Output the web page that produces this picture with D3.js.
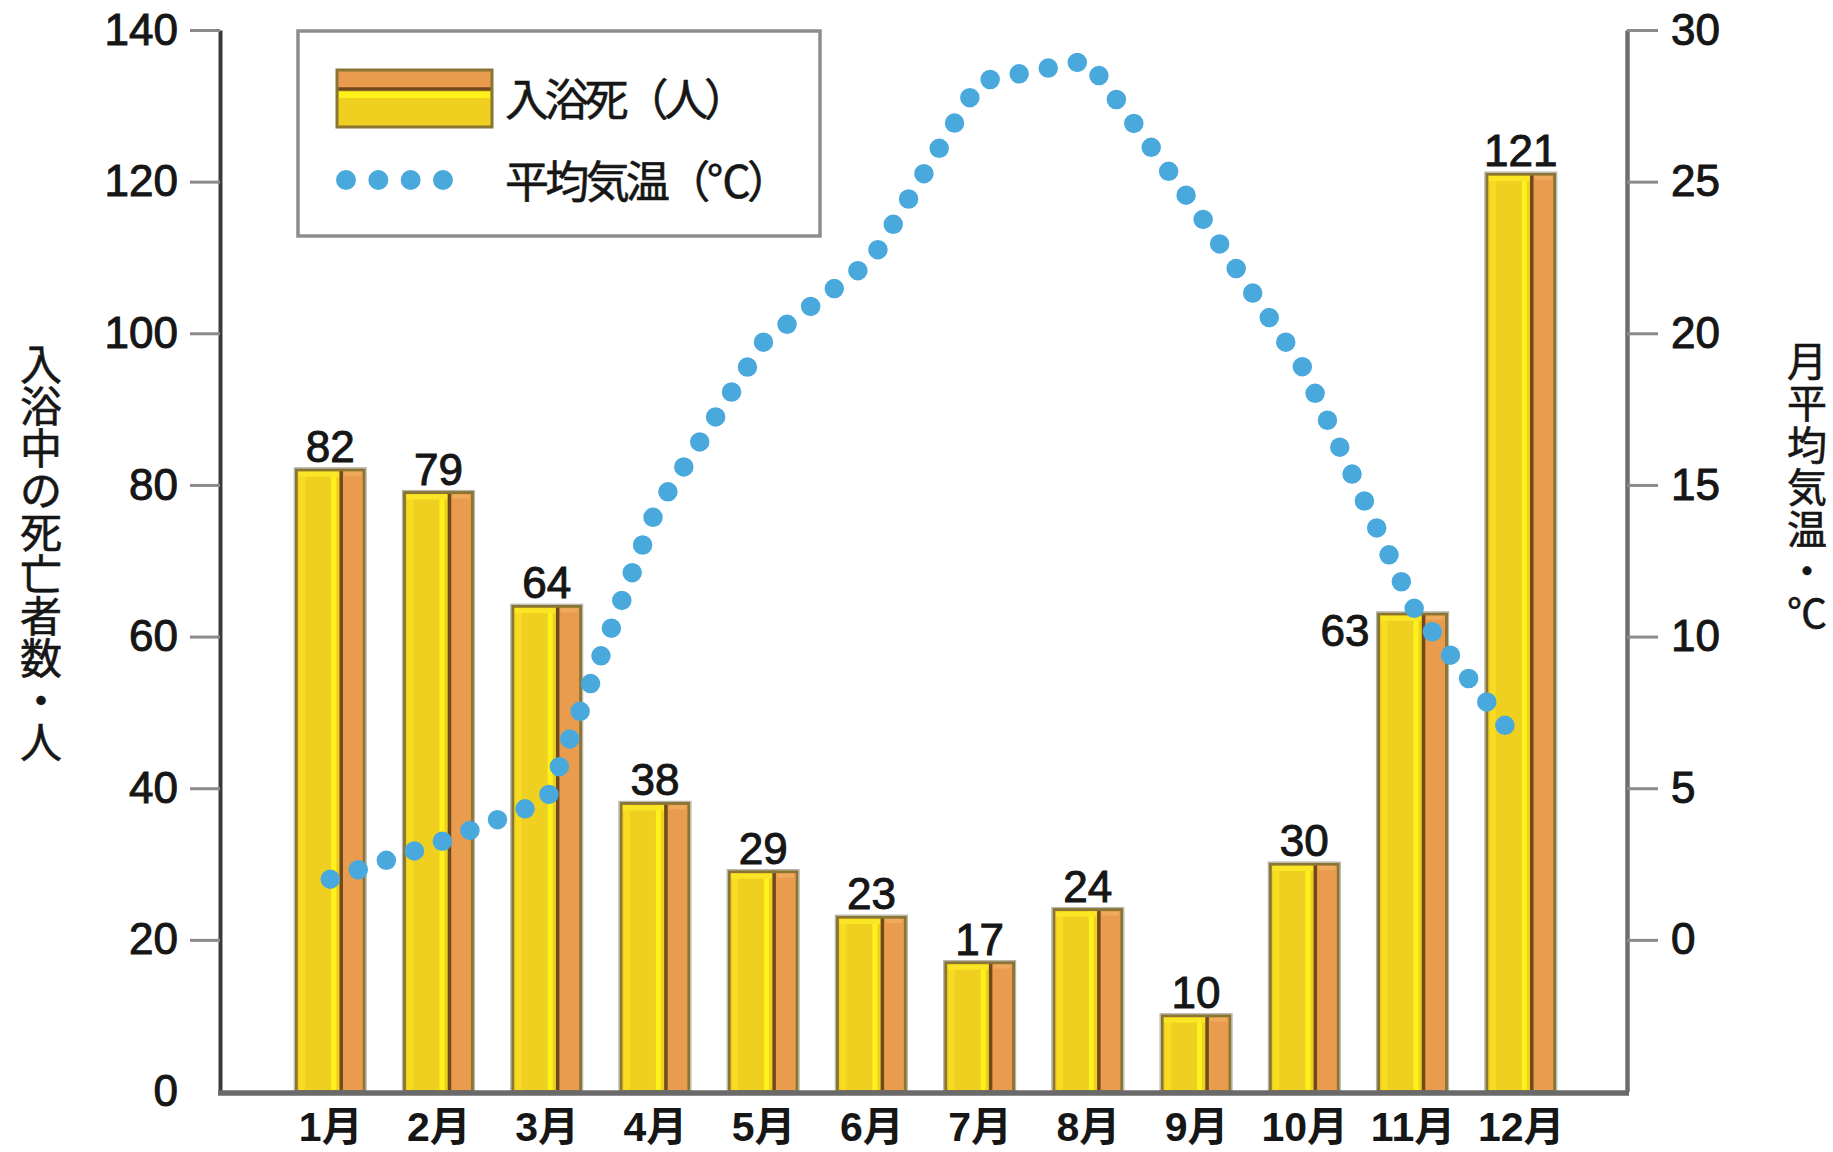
<!DOCTYPE html>
<html><head><meta charset="utf-8">
<script src="https://cdn.jsdelivr.net/npm/d3@7"></script>
<style>
body{margin:0;background:#fff}
text{fill:#161616}
</style>
</head><body>
<svg id="chart" width="1833" height="1152" xmlns="http://www.w3.org/2000/svg"></svg>
<script>
// ---- data ----
const months = ["1月","2月","3月","4月","5月","6月","7月","8月","9月","10月","11月","12月"];
const deaths = [82, 79, 64, 38, 29, 23, 17, 24, 10, 30, 63, 121];
const temps = [2.0, 3.2, 4.6, 14.1, 19.7, 22.4, 28.3, 29.0, 24.1, 18.8, 11.0, 6.4];
const leftTicks = [0, 20, 40, 60, 80, 100, 120, 140];
const rightTicks = [0, 5, 10, 15, 20, 25, 30];
const legendLabels = ["入浴死（人）", "平均気温（℃）"];
const leftTitle = "入浴中の死亡者数・人";
const rightTitle = "月平均気温・℃";
const sideLabelMonths = ["11月"];

// ---- layout ----
const svg = d3.select("#chart");
const plot = {left: 220, right: 1627, top: 30, bottom: 1091.5};
const x = d3.scalePoint().domain(months).range([plot.left + 2, plot.right + 2]).padding(1);
const y = d3.scaleLinear().domain([0, 140]).range([plot.bottom, plot.top]);
const yT = d3.scaleLinear().domain([-5, 30]).range([plot.bottom, plot.top]);
const numFont = "'Liberation Sans', Arial, sans-serif";
const jpFont = "'Noto Sans CJK JP', 'Noto Sans CJK SC', sans-serif";
const ink = "#161616";

svg.append("rect").attr("width", 1833).attr("height", 1152).attr("fill", "#fff");

// ---- bars ----
const bw = 68, yw = 45;
const bars = svg.append("g");
months.forEach((m, i) => {
  const v = deaths[i];
  const x0 = x(m) - bw / 2, yt = y(v), h = y(0) - y(v);
  const g = bars.append("g");
  g.append("rect").attr("x", x0).attr("y", yt).attr("width", yw).attr("height", h).attr("fill", "#efcf1f");
  g.append("rect").attr("x", x0 + yw).attr("y", yt).attr("width", bw - yw).attr("height", h).attr("fill", "#e99c4d");
  g.append("rect").attr("x", x0 + 3).attr("y", yt + 2).attr("width", 6).attr("height", h - 2).attr("fill", "#f7dc22");
  g.append("rect").attr("x", x0 + yw - 10).attr("y", yt + 2).attr("width", 5).attr("height", h - 2).attr("fill", "#fff21a");
  g.append("rect").attr("x", x0 + 2).attr("y", yt + 2).attr("width", yw - 4).attr("height", 5).attr("fill", "#fbe625");
  g.append("rect").attr("x", x0 + yw + 3).attr("y", yt + 2).attr("width", bw - yw - 6).attr("height", 4).attr("fill", "#f0aa5e");
  g.append("line").attr("x1", x0 + yw).attr("x2", x0 + yw).attr("y1", yt).attr("y2", y(0))
    .attr("stroke", "#704a1c").attr("stroke-width", 3.5);
  g.append("rect").attr("x", x0).attr("y", yt).attr("width", bw).attr("height", h)
    .attr("fill", "none").attr("stroke", "#8a7634").attr("stroke-width", 3);
  g.append("rect").attr("x", x0 - 2).attr("y", yt - 2).attr("width", bw + 4).attr("height", h + 2)
    .attr("fill", "none").attr("stroke", "#b8b8b0").attr("stroke-width", 1.2);
});

// ---- value labels ----
svg.append("g").selectAll("text").data(months).join("text")
  .attr("x", (m, i) => sideLabelMonths.includes(m) ? x(m) - bw / 2 - 9 : x(m))
  .attr("y", (m, i) => sideLabelMonths.includes(m) ? y(deaths[i]) + 32 : y(deaths[i]) - 8)
  .attr("text-anchor", m => sideLabelMonths.includes(m) ? "end" : "middle")
  .attr("font-family", numFont).attr("font-size", 44)
  .attr("stroke", ink).attr("stroke-width", 1)
  .text((m, i) => deaths[i]);

// ---- axes ----
const axL = svg.append("g").attr("transform", `translate(${plot.left},0)`)
  .call(d3.axisLeft(y).tickValues(leftTicks).tickSize(30).tickSizeOuter(0).tickPadding(12));
axL.select(".domain").attr("stroke", "#3a3a3a").attr("stroke-width", 4);
axL.selectAll(".tick line").attr("stroke", "#8a8a8a").attr("stroke-width", 3)
  .filter(d => d === 0).remove();
axL.selectAll(".tick text").attr("font-family", numFont).attr("font-size", 44).attr("fill", ink)
  .attr("stroke", ink).attr("stroke-width", 1);

const axR = svg.append("g").attr("transform", `translate(${plot.right},0)`)
  .call(d3.axisRight(yT).tickValues(rightTicks).tickSize(31).tickSizeOuter(0).tickPadding(13));
axR.select(".domain").attr("stroke", "#6e6e6e").attr("stroke-width", 4.5);
axR.selectAll(".tick line").attr("stroke", "#8a8a8a").attr("stroke-width", 3);
axR.selectAll(".tick text").attr("font-family", numFont).attr("font-size", 44).attr("fill", ink)
  .attr("stroke", ink).attr("stroke-width", 1);

svg.append("line").attr("x1", plot.left - 2).attr("x2", plot.right + 2)
  .attr("y1", plot.bottom + 1.5).attr("y2", plot.bottom + 1.5)
  .attr("stroke", "#6a6a6a").attr("stroke-width", 5.5);

const axB = svg.append("g").attr("transform", `translate(0,${plot.bottom + 1.5})`)
  .call(d3.axisBottom(x).tickSize(0).tickPadding(19));
axB.select(".domain").remove();
axB.selectAll(".tick text").attr("font-family", "'Liberation Sans', 'Noto Sans CJK JP', sans-serif")
  .attr("font-weight", "bold").attr("font-size", 41).attr("fill", ink);

// ---- temperature dotted line ----
const line = d3.line().x((d, i) => x(months[i])).y(d => yT(d)).curve(d3.curveLinear);
svg.append("path").attr("d", line(temps)).attr("fill", "none")
  .attr("stroke", "#4aa9dc").attr("stroke-width", 19.5)
  .attr("stroke-linecap", "round").attr("stroke-dasharray", "0 29.6");

// ---- axis titles: text run turned downward, each glyph turned back upright ----
function verticalTitle(str, cx, top, size, spacing) {
  svg.append("text")
    .attr("transform", `translate(${cx - size / 2},${top + 0.88 * size}) rotate(90)`)
    .attr("rotate", -90)
    .attr("font-family", jpFont).attr("font-size", size)
    .attr("letter-spacing", spacing)
    .attr("stroke", ink).attr("stroke-width", 0.6)
    .text(str);
}
verticalTitle(leftTitle, 41, 343, 42, 0);
verticalTitle(rightTitle, 1807, 341, 40, 2);

// ---- legend ----
const lg = svg.append("g");
lg.append("rect").attr("x", 298).attr("y", 31).attr("width", 522).attr("height", 205)
  .attr("fill", "#fff").attr("stroke", "#8d8d8d").attr("stroke-width", 3.5);
const sw = {x: 337, y: 70, w: 155, h: 57, o: 19};
lg.append("rect").attr("x", sw.x).attr("y", sw.y).attr("width", sw.w).attr("height", sw.o).attr("fill", "#e99c4d");
lg.append("rect").attr("x", sw.x).attr("y", sw.y + sw.o).attr("width", sw.w).attr("height", sw.h - sw.o).attr("fill", "#efcf1f");
lg.append("rect").attr("x", sw.x + 2).attr("y", sw.y + sw.o + 3).attr("width", sw.w - 4).attr("height", 6).attr("fill", "#fff21a");
lg.append("line").attr("x1", sw.x).attr("x2", sw.x + sw.w).attr("y1", sw.y + sw.o).attr("y2", sw.y + sw.o)
  .attr("stroke", "#704a1c").attr("stroke-width", 3.5);
lg.append("rect").attr("x", sw.x).attr("y", sw.y).attr("width", sw.w).attr("height", sw.h)
  .attr("fill", "none").attr("stroke", "#8a7634").attr("stroke-width", 3);
lg.append("line").attr("x1", 346).attr("x2", 443).attr("y1", 180).attr("y2", 180)
  .attr("stroke", "#4aa9dc").attr("stroke-width", 20).attr("stroke-linecap", "round")
  .attr("stroke-dasharray", "0 32.33");
lg.append("text").attr("x", 505).attr("y", 97).attr("dominant-baseline", "central")
  .attr("font-family", jpFont).attr("font-size", 44).attr("stroke", ink).attr("stroke-width", 0.6)
  .attr("textLength", 243).attr("lengthAdjust", "spacing").text(legendLabels[0]);
lg.append("text").attr("x", 505).attr("y", 179).attr("dominant-baseline", "central")
  .attr("font-family", jpFont).attr("font-size", 44).attr("stroke", ink).attr("stroke-width", 0.6)
  .attr("textLength", 286).attr("lengthAdjust", "spacing").text(legendLabels[1]);
</script>
</body></html>
